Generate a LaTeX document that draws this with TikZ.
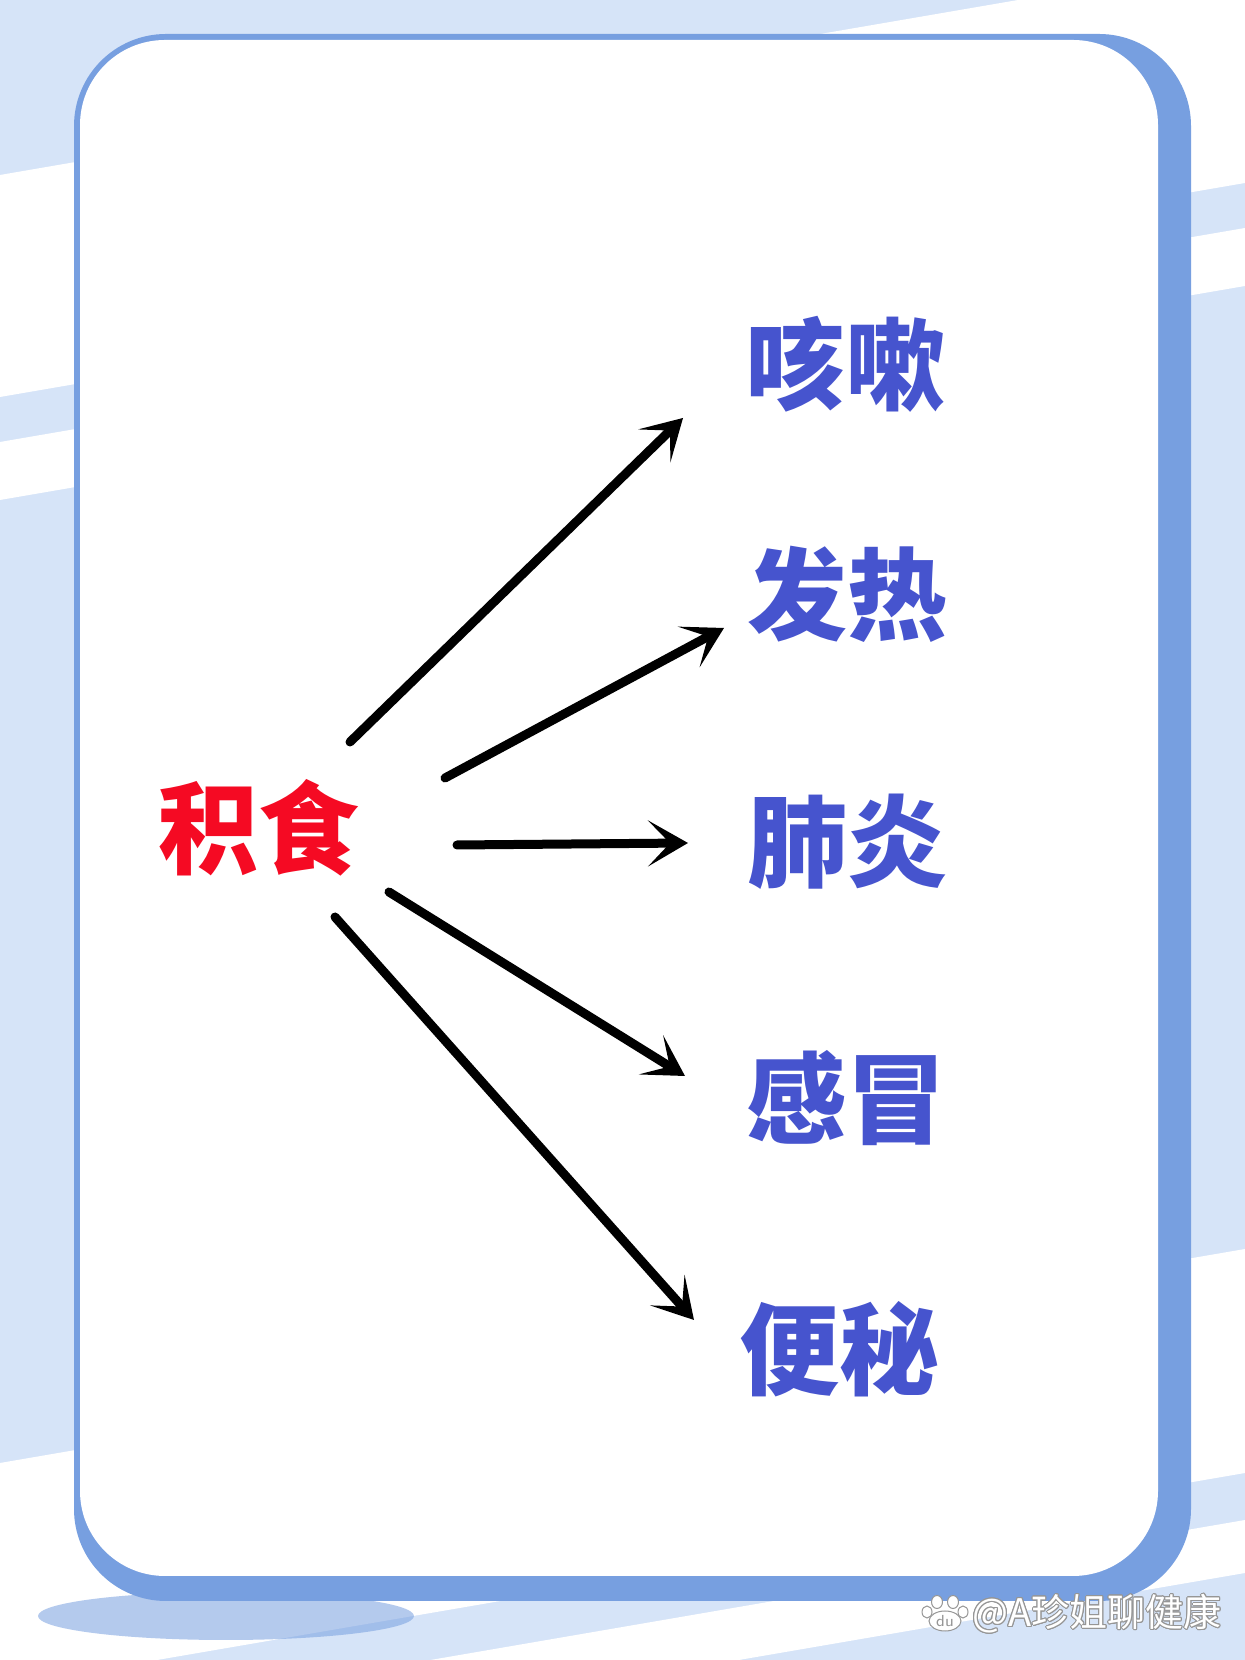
\documentclass[tikz,border=0pt]{standalone}
\usepackage{fontspec}
\newfontfamily\cjk{Noto Sans CJK SC}
\usepackage{contour}
\usetikzlibrary{arrows.meta}

\definecolor{bgblue}{RGB}{214,228,248}
\definecolor{cardblue}{RGB}{119,159,224}
\definecolor{symblue}{RGB}{70,84,206}
\definecolor{foodred}{RGB}{245,10,35}
\definecolor{markgray}{RGB}{150,150,150}

\tikzset{
  cause/.style={inner sep=0pt, text=foodred, font={\cjk\bfseries\fontsize{50pt}{50pt}\selectfont}},
  symptom/.style={inner sep=0pt, text=symblue, font={\cjk\bfseries\fontsize{50pt}{50pt}\selectfont}},
  pointer/.style={line width=4.5pt, line cap=round, -{Stealth[length=20pt,width=23pt,inset=11pt]}},
  toe/.style={fill=white, draw=markgray, line width=0.5pt}
}

\begin{document}
\begin{tikzpicture}[x=0.5pt,y=0.5pt]
\useasboundingbox (0,0) rectangle (1245,1660);

%Shape: Background
\fill[bgblue] (0,0) rectangle (1245,1660);
\begin{scope}
\clip (0,0) rectangle (1245,1660);
%Shape: Stripes
\fill[white] (0,1485) -- (1245,1699) -- (1245,1477) -- (0,1263) -- cycle;
\fill[white] (0,1218) -- (1245,1432) -- (1245,1374) -- (0,1160) -- cycle;
\fill[white] (0,197) -- (1245,411) -- (1245,187) -- (0,-27) -- cycle;
\fill[white] (0,-74) -- (1245,140) -- (1245,87) -- (0,-127) -- cycle;
\end{scope}

%Shape: Ellipse
\fill[cardblue, fill opacity=0.55] (226,44) ellipse [x radius=188, y radius=24];

%Shape: Card
\fill[cardblue, rounded corners=46pt] (74,59) rectangle (1191,1626);
\fill[white, rounded corners=42.5pt] (80,84) rectangle (1158,1620);

% Text Node
\draw (258,832) node[cause] (jishi) {积食};
% Text Node
\draw (845,1296) node[symptom] (kesou) {咳嗽};
% Text Node
\draw (847,1066) node[symptom] (fare) {发热};
% Text Node
\draw (847,818) node[symptom] (feiyan) {肺炎};
% Text Node
\draw (846,562) node[symptom] (ganmao) {感冒};
% Text Node
\draw (839,311) node[symptom] (bianmi) {便秘};

%Arrows
\draw[pointer] ([shift={(92,86)}]jishi.center) -- ([shift={(-162,-54)}]kesou.center);
\draw[pointer] ([shift={(187,50)}]jishi.center) -- ([shift={(-123,-34)}]fare.center);
\draw[pointer] ([shift={(199,-17)}]jishi.center) -- ([shift={(-159,-1)}]feiyan.center);
\draw[pointer] ([shift={(131,-64)}]jishi.center) -- ([shift={(-161,22)}]ganmao.center);
\draw[pointer] ([shift={(77,-89)}]jishi.center) -- ([shift={(-145,29)}]bianmi.center);

%Shape: Paw
\draw[toe] (945,39) ellipse [x radius=16, y radius=10];
\draw[toe] (937,58) ellipse [x radius=5.5, y radius=6.5];
\draw[toe] (953,58) ellipse [x radius=5.5, y radius=6.5];
\draw[toe] (927,48) ellipse [x radius=5, y radius=6];
\draw[toe] (963,48) ellipse [x radius=5, y radius=6];
\draw (945,39) node[inner sep=0pt, text=markgray, font=\sffamily\fontsize{8pt}{8pt}\selectfont] (du) {du};

% Text Node
\draw (1222,46) node[anchor=east, inner sep=0pt, font={\cjk\fontsize{19pt}{19pt}\selectfont}] (mark)
  {\contourlength{0.4pt}\color{white}\contour{markgray}{@A珍姐聊健康}};

\end{tikzpicture}
\end{document}
